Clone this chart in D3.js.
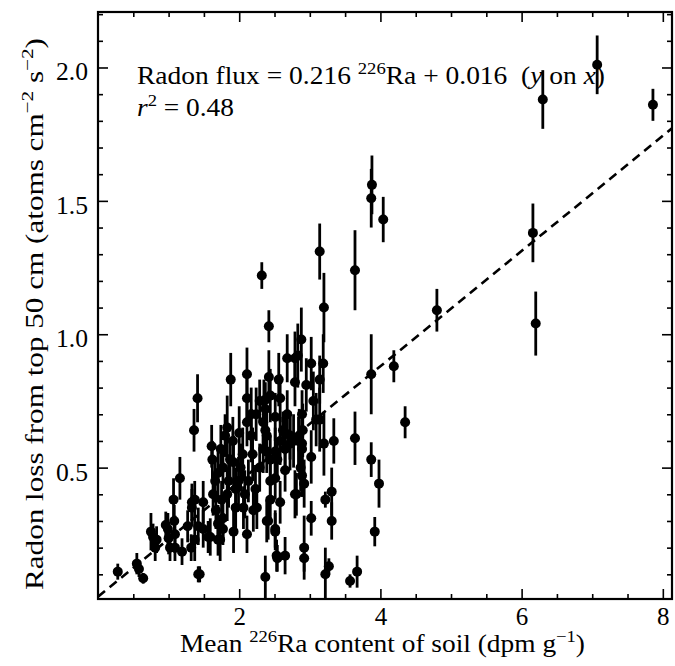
<!DOCTYPE html>
<html><head><meta charset="utf-8">
<script src="https://cdn.jsdelivr.net/npm/d3@7"></script>
<style>body{margin:0;background:#fff}svg{display:block}text{font-family:"Liberation Serif","Times New Roman",serif;fill:#000}</style>
</head><body>
<script>
// data: [Ra (dpm/g), radon flux, error half-length]
const raContent = [7.07,6.30,7.86,6.16,6.20,4.80,4.35,4.19,3.88,3.87,4.04,3.14,3.64,3.20,2.32,2.42,3.87,3.64,3.87,3.98,3.92,3.67,3.57,3.34,3.20,3.31,3.22,3.31,3.02,2.92,2.92,3.22,3.27,3.02,3.05,3.02,3.19,3.14,2.95,2.88,3.09,3.14,2.89,2.90,2.89,2.89,2.92,
 2.68,2.79,2.83,2.56,2.79,2.42,2.58,2.44,2.35,2.37,2.51,2.65,2.37,2.68,2.62,2.72,2.85,2.34,2.29,
 1.41,1.36,1.88,2.11,2.11,1.80,2.11,2.17,2.24,1.61,1.91,1.62,1.87,1.66,1.77,1.92,1.99,2.13,2.29,2.34,2.39,2.17,1.33,1.49,1.75,2.06,2.25,1.77,2.39,1.49,1.59,1.73,1.92,2.11,1.37,1.32,1.44,2.37,1.77,1.83,1.95,2.05,2.00,
 2.44,2.51,2.65,2.77,2.89,2.44,2.65,2.81,2.44,2.58,2.20,2.41,2.51,2.53,2.65,2.58,2.72,2.84,2.39,2.54,2.87,2.51,2.79,2.51,2.54,
 0.28,0.55,0.58,0.64,0.75,0.78,0.81,0.83,0.96,0.99,1.07,1.08,1.16,1.00,1.02,1.09,1.09,1.19,1.27,1.33,1.37,1.42,1.56,1.42,1.70,1.70,
 1.70,1.74,1.85,1.83,2.02,2.08,2.19,2.23,1.95,1.63,1.67];
const radonFlux = [2.01,1.88,1.86,1.38,1.04,1.09,0.67,0.88,1.56,1.51,1.43,1.31,1.24,1.10,1.22,1.03,0.85,0.61,0.53,0.44,0.26,0.11,0.075,0.60,0.59,0.41,0.38,0.30,0.31,0.20,0.16,0.10,0.13,0.54,0.75,0.89,0.89,0.83,0.81,0.98,0.68,0.68,0.70,0.64,0.59,0.47,0.44,
 0.91,0.91,0.92,0.83,0.82,0.84,0.76,0.77,0.75,0.72,0.69,0.63,0.64,0.70,0.64,0.62,0.62,0.67,0.75,
 0.76,0.64,0.83,0.85,0.76,0.62,0.67,0.70,0.70,0.58,0.60,0.53,0.53,0.45,0.50,0.52,0.45,0.45,0.50,0.57,0.62,0.62,0.37,0.37,0.38,0.35,0.35,0.31,0.30,0.27,0.24,0.23,0.26,0.25,0.23,0.20,0.10,0.09,0.27,0.40,0.42,0.55,0.63,
 0.53,0.56,0.57,0.60,0.57,0.45,0.49,0.40,0.38,0.37,0.34,0.30,0.26,0.17,0.17,0.60,0.59,0.60,0.56,0.53,0.50,0.46,0.40,0.27,0.16,
 0.11,0.14,0.12,0.085,0.26,0.24,0.20,0.23,0.285,0.27,0.38,0.30,0.46,0.235,0.20,0.25,0.20,0.185,0.28,0.35,0.38,0.10,0.24,0.28,0.29,0.23,
 0.48,0.57,0.45,0.65,0.50,0.40,0.55,0.42,0.35,0.40,0.34];
const fluxError = [0.11,0.11,0.06,0.11,0.12,0.08,0.06,0.06,0.11,0.11,0.085,0.105,0.15,0.13,0.05,0.06,0.15,0.10,0.065,0.09,0.055,0.06,0.025,0.085,0.12,0.09,0.03,0.07,0.065,0.12,0.05,0.10,0.03,0.10,0.11,0.10,0.11,0.09,0.10,0.12,0.10,0.12,0.09,0.10,0.09,0.08,0.09,
 0.09,0.10,0.12,0.10,0.09,0.10,0.09,0.10,0.08,0.10,0.09,0.08,0.09,0.09,0.07,0.09,0.10,0.10,0.08,
 0.09,0.08,0.10,0.10,0.09,0.08,0.09,0.10,0.10,0.08,0.09,0.07,0.08,0.08,0.08,0.10,0.09,0.08,0.09,0.09,0.10,0.10,0.07,0.08,0.07,0.08,0.08,0.08,0.08,0.07,0.07,0.08,0.08,0.07,0.08,0.05,0.03,0.08,0.06,0.10,0.08,0.10,0.10,
 0.09,0.09,0.08,0.10,0.09,0.08,0.08,0.08,0.07,0.08,0.08,0.07,0.07,0.06,0.07,0.09,0.10,0.09,0.08,0.08,0.09,0.08,0.09,0.07,0.05,
 0.03,0.04,0.03,0.02,0.07,0.05,0.05,0.05,0.05,0.06,0.08,0.06,0.08,0.06,0.05,0.07,0.05,0.05,0.06,0.07,0.07,0.03,0.06,0.07,0.07,0.06,
 0.10,0.09,0.10,0.12,0.09,0.09,0.10,0.09,0.08,0.08,0.07];
const xMajorTicks = [2,4,6,8];
const yMajorTicks = [0.5,1.0,1.5,2.0];
const fitSlope = 0.216, fitIntercept = 0.016;

const W = 675, H = 666;
const L = 98, R = 672, T = 12, B = 599;
const FS = 25, SS = 17;
const svg = d3.select("body").append("svg").attr("width", W).attr("height", H);
const x = d3.scaleLinear().domain([0, 8.13]).range([L, R]);
const y = d3.scaleLinear().domain([0.0075, 2.208]).range([B, T]);

const xMinor = d3.range(0.5, 8.1, 0.5).filter(v => v % 2 !== 0);
const yMinor = d3.range(0.1, 2.21, 0.1).map(v => +v.toFixed(1)).filter(v => !yMajorTicks.includes(v));

function styleAxis(g){ g.select(".domain").remove(); g.selectAll("line").attr("stroke","#000").attr("stroke-width",1.6); g.selectAll("text").attr("font-size",FS).attr("font-family","Liberation Serif"); }

// bottom
svg.append("g").attr("transform",`translate(0,${B})`).call(d3.axisBottom(x).tickValues(xMajorTicks).tickSize(-10).tickPadding(8).tickFormat(d3.format("d"))).call(styleAxis);
svg.append("g").attr("transform",`translate(0,${B})`).call(d3.axisBottom(x).tickValues(xMinor).tickSize(-5).tickFormat("")).call(styleAxis);
// top
svg.append("g").attr("transform",`translate(0,${T})`).call(d3.axisTop(x).tickValues(xMajorTicks).tickSize(-10).tickFormat("")).call(styleAxis);
svg.append("g").attr("transform",`translate(0,${T})`).call(d3.axisTop(x).tickValues(xMinor).tickSize(-5).tickFormat("")).call(styleAxis);
// left
const yl0 = svg.append("g").attr("transform",`translate(${L},0)`).call(d3.axisLeft(y).tickValues(yMajorTicks).tickSize(-10).tickPadding(10).tickFormat(d3.format(".1f"))).call(styleAxis);
yl0.selectAll("text").attr("textLength",32).attr("lengthAdjust","spacingAndGlyphs").attr("dy","0.5em");
svg.append("g").attr("transform",`translate(${L},0)`).call(d3.axisLeft(y).tickValues(yMinor).tickSize(-5).tickFormat("")).call(styleAxis);
// right
svg.append("g").attr("transform",`translate(${R},0)`).call(d3.axisRight(y).tickValues(yMajorTicks).tickSize(-10).tickFormat("")).call(styleAxis);
svg.append("g").attr("transform",`translate(${R},0)`).call(d3.axisRight(y).tickValues(yMinor).tickSize(-5).tickFormat("")).call(styleAxis);

// frame
svg.append("rect").attr("x",L).attr("y",T).attr("width",R-L).attr("height",B-T).attr("fill","none").attr("stroke","#000").attr("stroke-width",2.2);

const pts = raContent.map((v,i)=>({x:v, y:radonFlux[i], e:fluxError[i]}));

svg.append("defs").append("clipPath").attr("id","clip").append("rect").attr("x",L).attr("y",T).attr("width",R-L).attr("height",B-T);
const plot = svg.append("g").attr("clip-path","url(#clip)");

// fit line
const xd = x.domain();
plot.append("line")
  .attr("x1",x(xd[0])).attr("y1",y(fitSlope*xd[0]+fitIntercept))
  .attr("x2",x(xd[1])).attr("y2",y(fitSlope*xd[1]+fitIntercept))
  .attr("stroke","#000").attr("stroke-width",2.6).attr("stroke-dasharray","9,6");

// error bars
plot.selectAll("line.err").data(pts).join("line").attr("class","err")
  .attr("x1",d=>x(d.x)).attr("x2",d=>x(d.x))
  .attr("y1",d=>y(d.y-d.e)).attr("y2",d=>y(d.y+d.e))
  .attr("stroke","#000").attr("stroke-width",2.8);
plot.selectAll("circle").data(pts).join("circle")
  .attr("cx",d=>x(d.x)).attr("cy",d=>y(d.y)).attr("r",5).attr("fill","#000");

function stretch(t, len){ t.attr("textLength",len).attr("lengthAdjust","spacingAndGlyphs"); }

// annotation
const t1 = svg.append("text").attr("x",137).attr("y",84).attr("font-size",FS);
t1.append("tspan").text("Radon flux = 0.216 ");
t1.append("tspan").attr("font-size",SS).attr("dy",-10).text("226");
t1.append("tspan").attr("dy",10).text("Ra + 0.016\u00A0\u00A0(");
t1.append("tspan").attr("font-style","italic").text("y");
t1.append("tspan").text(" on ");
t1.append("tspan").attr("font-style","italic").text("x");
t1.append("tspan").text(")");
stretch(t1, 468);
const t2 = svg.append("text").attr("x",137).attr("y",116).attr("font-size",FS);
t2.append("tspan").attr("font-style","italic").text("r");
t2.append("tspan").attr("font-size",SS).attr("dy",-10).text("2");
t2.append("tspan").attr("dy",10).text(" = 0.48");
stretch(t2, 97);

// x label
const xl = svg.append("text").attr("x",180).attr("y",652).attr("font-size",FS);
xl.append("tspan").text("Mean ");
xl.append("tspan").attr("font-size",SS).attr("dy",-10).text("226");
xl.append("tspan").attr("dy",10).text("Ra content of soil (dpm g");
xl.append("tspan").attr("font-size",SS).attr("dy",-10).text("\u22121");
xl.append("tspan").attr("dy",10).text(")");
stretch(xl, 405);

// y label
const yl = svg.append("text").attr("transform",`translate(43,590) rotate(-90)`).attr("font-size",FS);
yl.append("tspan").text("Radon loss from top 50 cm (atoms cm");
yl.append("tspan").attr("font-size",SS).attr("dy",-10).text("\u22122");
yl.append("tspan").attr("dy",10).text(" s");
yl.append("tspan").attr("font-size",SS).attr("dy",-10).text("\u22122");
yl.append("tspan").attr("dy",10).text(")");
stretch(yl, 552);
</script>
</body></html>
